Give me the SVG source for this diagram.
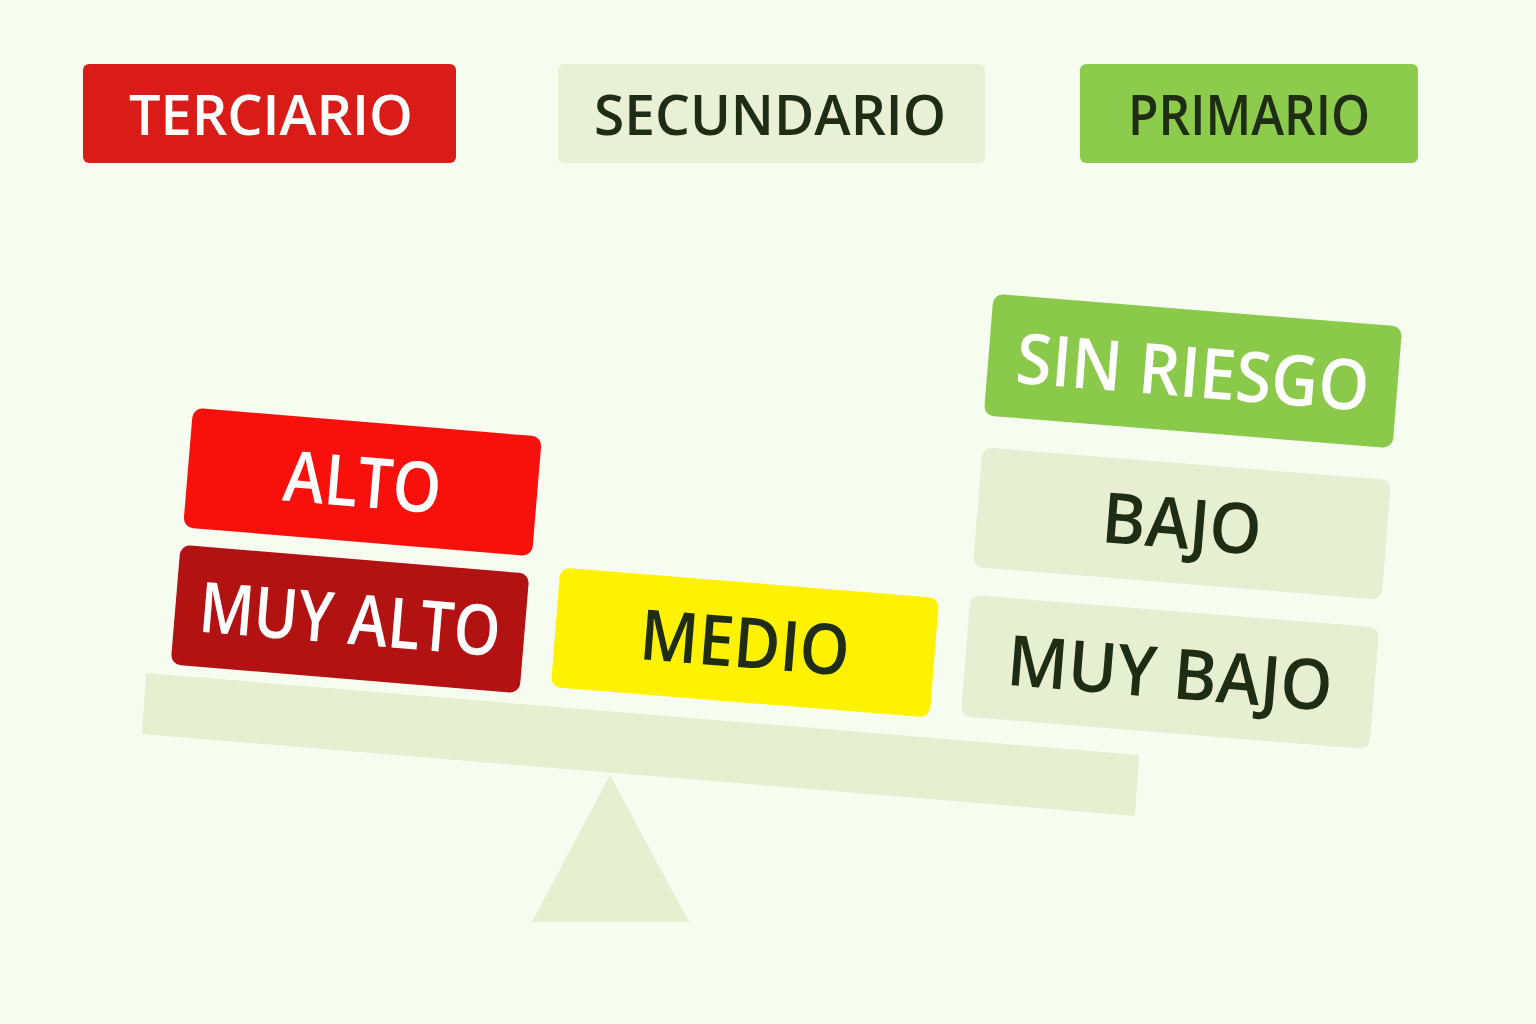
<svg xmlns="http://www.w3.org/2000/svg" width="1536" height="1024" viewBox="0 0 1536 1024">
<style>
.t{font-family:"Open Sans","Noto Sans","Liberation Sans",sans-serif;font-weight:600;text-anchor:middle}
.w{fill:#ffffff}
.d{fill:#1f2d14}
.h{font-size:56px}
.b{font-size:70px}
</style>
<rect width="1536" height="1024" fill="#f7fcf1"/>
<g id="scale">
<polygon points="146,673 1139,755 1135,816 142,734" fill="#e6efd0"/>
<polygon points="610,775 689,922 532,922" fill="#e6efd0"/>
</g>
<g id="terciario">
<rect x="83" y="64" width="373" height="99" rx="6" fill="#d91c17"/>
<text class="t h w" x="271" y="135" textLength="284" lengthAdjust="spacingAndGlyphs">TERCIARIO</text>
</g>
<g id="secundario">
<rect x="558" y="64" width="427" height="99" rx="6" fill="#e8f0d6"/>
<text class="t h d" x="770" y="135" textLength="352" lengthAdjust="spacingAndGlyphs">SECUNDARIO</text>
</g>
<g id="primario">
<rect x="1080" y="64" width="338" height="99" rx="6" fill="#8ccb4b"/>
<text class="t h d" x="1249" y="135" textLength="242" lengthAdjust="spacingAndGlyphs">PRIMARIO</text>
</g>
<g id="alto" transform="translate(362.5,482) rotate(4.75)">
<rect x="-175" y="-60" width="350" height="120" rx="10" fill="#f8100d"/>
<text class="t b w" x="0" y="25" textLength="158" lengthAdjust="spacingAndGlyphs">ALTO</text>
</g>
<g id="muy-alto" transform="translate(350,619) rotate(4.75)">
<rect x="-175" y="-60" width="350" height="120" rx="10" fill="#b31212"/>
<text class="t b w" x="0" y="25" textLength="302" lengthAdjust="spacingAndGlyphs">MUY ALTO</text>
</g>
<g id="medio" transform="translate(745,642.5) rotate(4.6)">
<rect x="-190" y="-60" width="380" height="120" rx="10" fill="#fff200"/>
<text class="t b d" x="0" y="25" textLength="210" lengthAdjust="spacingAndGlyphs">MEDIO</text>
</g>
<g id="sin-riesgo" transform="translate(1193,371) rotate(4.6)">
<rect x="-205" y="-61" width="410" height="122" rx="10" fill="#8bc94b"/>
<text class="t b w" x="0" y="26" textLength="354" lengthAdjust="spacingAndGlyphs">SIN RIESGO</text>
</g>
<g id="bajo" transform="translate(1182,523.5) rotate(4.6)">
<rect x="-205" y="-60" width="410" height="120" rx="10" fill="#e6efd2"/>
<text class="t b d" x="0" y="25" textLength="160" lengthAdjust="spacingAndGlyphs">BAJO</text>
</g>
<g id="muy-bajo" transform="translate(1170,672) rotate(4.6)">
<rect x="-205" y="-61" width="410" height="122" rx="10" fill="#e6efd2"/>
<text class="t b d" x="0" y="26" textLength="326" lengthAdjust="spacingAndGlyphs">MUY BAJO</text>
</g>
</svg>
